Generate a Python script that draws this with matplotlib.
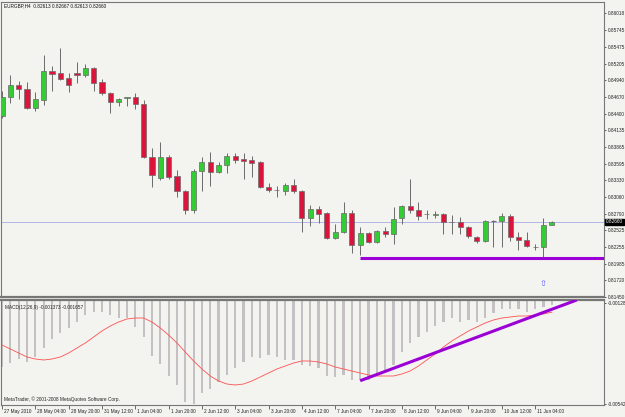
import matplotlib
matplotlib.use('Agg')
import matplotlib.pyplot as plt
import matplotlib.transforms as mtransforms

# EURGBP H4 candles
opens = [0.84362, 0.84667, 0.84860, 0.84796, 0.84490, 0.84619, 0.85085, 0.85053, 0.84973, 0.85053,
         0.85021, 0.85134, 0.84908, 0.84732, 0.84587, 0.84651, 0.84667, 0.84555, 0.83702, 0.83365,
         0.83702, 0.83397, 0.83156, 0.82850, 0.83477, 0.83622, 0.83461, 0.83574, 0.83718, 0.83670,
         0.83654, 0.83622, 0.83220, 0.83172, 0.83156, 0.83252, 0.83156, 0.82722, 0.82866, 0.82802,
         0.82400, 0.82496, 0.82802, 0.82287, 0.82480, 0.82336, 0.82513, 0.82464, 0.82722, 0.82914,
         0.82850, 0.82786, 0.82770, 0.82786, 0.82657, 0.82657, 0.82577, 0.82416, 0.82352, 0.82673,
         0.82673, 0.82754, 0.82416, 0.82368, 0.82255, 0.82255, 0.82613]
highs = [0.84764, 0.85021, 0.84925, 0.84908, 0.84748, 0.85343, 0.85166, 0.85455, 0.85053, 0.85230,
         0.85198, 0.85150, 0.84957, 0.84748, 0.84651, 0.84667, 0.84732, 0.84619, 0.83847, 0.83944,
         0.83734, 0.83493, 0.83172, 0.83510, 0.83702, 0.83783, 0.83622, 0.83767, 0.83767, 0.83767,
         0.83718, 0.83638, 0.83284, 0.83236, 0.83284, 0.83349, 0.83172, 0.82931, 0.82914, 0.82818,
         0.82625, 0.82979, 0.82850, 0.82577, 0.82496, 0.82529, 0.82577, 0.82898, 0.82931, 0.83349,
         0.82979, 0.82850, 0.82834, 0.82802, 0.82770, 0.82738, 0.82593, 0.82432, 0.82689, 0.82689,
         0.82802, 0.82786, 0.82496, 0.82496, 0.82304, 0.82722, 0.82667]
lows = [0.84330, 0.84571, 0.84635, 0.84474, 0.84442, 0.84539, 0.84764, 0.84941, 0.84748, 0.84892,
        0.84989, 0.84764, 0.84699, 0.84410, 0.84523, 0.84523, 0.84474, 0.83686, 0.83220, 0.83333,
        0.83349, 0.83060, 0.82786, 0.82802, 0.83156, 0.83236, 0.83445, 0.83445, 0.83606, 0.83349,
        0.83381, 0.83204, 0.83140, 0.83060, 0.83092, 0.83124, 0.82496, 0.82593, 0.82641, 0.82384,
        0.82384, 0.82480, 0.82159, 0.82127, 0.82320, 0.82320, 0.82416, 0.82304, 0.82625, 0.82802,
        0.82689, 0.82705, 0.82722, 0.82464, 0.82464, 0.82464, 0.82400, 0.82320, 0.82336, 0.82255,
        0.82255, 0.82352, 0.82207, 0.82255, 0.82207, 0.82094, 0.82613]
closes = [0.84667, 0.84860, 0.84796, 0.84490, 0.84635, 0.85085, 0.85037, 0.84957, 0.84860, 0.85021,
          0.85134, 0.84892, 0.84732, 0.84587, 0.84635, 0.84667, 0.84555, 0.83702, 0.83413, 0.83702,
          0.83381, 0.83156, 0.82850, 0.83477, 0.83622, 0.83461, 0.83574, 0.83718, 0.83654, 0.83638,
          0.83606, 0.83220, 0.83172, 0.83165, 0.83252, 0.83156, 0.82722, 0.82866, 0.82786, 0.82400,
          0.82496, 0.82802, 0.82287, 0.82480, 0.82336, 0.82513, 0.82464, 0.82705, 0.82914, 0.82850,
          0.82754, 0.82780, 0.82786, 0.82657, 0.82651, 0.82577, 0.82432, 0.82352, 0.82673, 0.82670,
          0.82754, 0.82416, 0.82368, 0.82271, 0.82260, 0.82609, 0.82660]

# MACD(12,26,9): histogram (main) and signal line
macd = [-0.003904, -0.003740, -0.003576, -0.003699, -0.003494, -0.003125, -0.002756, -0.002510,
        -0.002305, -0.002059, -0.001772, -0.001649, -0.001649, -0.001772, -0.001895, -0.001895,
        -0.002264, -0.002674, -0.003453, -0.003781, -0.004273, -0.004642, -0.005339, -0.005421,
        -0.004970, -0.004806, -0.004519, -0.004232, -0.003945, -0.003699, -0.003494, -0.003535,
        -0.003412, -0.003494, -0.003617, -0.003617, -0.003822, -0.003863, -0.003945, -0.004273,
        -0.004314, -0.004232, -0.004437, -0.004437, -0.004437, -0.004232, -0.004150, -0.003822,
        -0.003289, -0.002920, -0.002674, -0.002469, -0.002223, -0.002059, -0.001895, -0.002059,
        -0.001977, -0.002059, -0.001895, -0.001690, -0.001526, -0.001526, -0.001526, -0.001649,
        -0.001526, -0.001444, -0.001373]
signal = [-0.003002, -0.003166, -0.003330, -0.003494, -0.003576, -0.003617, -0.003576, -0.003494,
          -0.003330, -0.003125, -0.002920, -0.002674, -0.002428, -0.002223, -0.002059, -0.001936,
          -0.001895, -0.001895, -0.002059, -0.002305, -0.002592, -0.002920, -0.003289, -0.003658,
          -0.003986, -0.004273, -0.004478, -0.004601, -0.004642, -0.004601, -0.004478, -0.004314,
          -0.004150, -0.003986, -0.003863, -0.003740, -0.003658, -0.003658, -0.003699, -0.003781,
          -0.003904, -0.003986, -0.004068, -0.004150, -0.004232, -0.004273, -0.004273, -0.004273,
          -0.004191, -0.004068, -0.003863, -0.003617, -0.003371, -0.003084, -0.002838, -0.002633,
          -0.002428, -0.002264, -0.002100, -0.001977, -0.001895, -0.001854, -0.001813, -0.001813,
          -0.001772, -0.001731, -0.001657]

time_labels = ['27 May 2010', '28 May 04:00', '28 May 20:00', '31 May 12:00', '1 Jun 04:00',
               '1 Jun 20:00', '2 Jun 12:00', '3 Jun 04:00', '3 Jun 20:00', '4 Jun 12:00',
               '7 Jun 04:00', '7 Jun 20:00', '8 Jun 12:00', '9 Jun 04:00', '9 Jun 20:00',
               '10 Jun 12:00', '11 Jun 04:00']
price_ticks = [0.86018, 0.85745, 0.85475, 0.85205, 0.84940, 0.84670, 0.84400, 0.84135, 0.83865,
               0.83595, 0.83330, 0.83060, 0.82790, 0.82525, 0.82255, 0.81985, 0.81720, 0.81450]
macd_ticks = [-0.00128, -0.00542]

bid = 0.82660
support_level = 0.82078
support_start = 43
macd_trend = ([43, 69], [-0.004466, -0.001157])

BG = '#f3f3ef'
GREEN = '#32cd32'
RED = '#dc143c'
EDGE = '#6a6a6a'
FRAME = '#777777'
VIOLET = '#9a00d6'
FS = 3.4
plt.rcParams['font.family'] = ['Liberation Sans', 'DejaVu Sans']

fig = plt.figure(figsize=(6.25, 4.17), dpi=100, facecolor=BG)
W, H = 625.0, 417.0

ax = fig.add_axes([1 / W, 1 - 297 / H, 603 / W, 295 / H], facecolor=BG)
ax2 = fig.add_axes([1 / W, 1 - 405 / H, 603 / W, 105 / H], facecolor=BG)

n = len(opens)
idx = list(range(n))

# candles
for i in idx:
    o, h, l, c = opens[i], highs[i], lows[i], closes[i]
    col = GREEN if c >= o else RED
    ax.vlines(i, l, h, color=EDGE, lw=0.7, zorder=2)
    body = abs(c - o)
    if body < 0.00004:
        ax.hlines(o, i - 0.32, i + 0.32, color=EDGE, lw=0.8, zorder=3)
    else:
        ax.bar(i, body, bottom=min(o, c), width=0.62, color=col,
               edgecolor=EDGE, linewidth=0.5, zorder=3)

ax.axhline(bid, color='#b4b4e6', lw=0.7, zorder=1)
ax.hlines(support_level, support_start, 80, color=VIOLET, lw=2.2, zorder=4)
ax.text(65, 0.81675, '\u21e7', color='#5a5aff', fontsize=6, ha='center', va='center',
        family='DejaVu Sans', zorder=5)

ax.set_xlim(-0.12, 72.27)
ax.set_ylim(0.81451, 0.86195)
ax.yaxis.tick_right()
ax.set_yticks(price_ticks)
ax.set_yticklabels(['%.5f' % p for p in price_ticks])
ax.tick_params(axis='y', length=1.5, width=0.5, pad=1, labelsize=FS, colors='#222222')
ax.set_xticks([])
for s in ax.spines.values():
    s.set_color(FRAME)
    s.set_linewidth(0.8)
ax.spines['bottom'].set_linewidth(1.6)

# current price tag
ax.text(1.003, bid, '%.5f' % bid, transform=mtransforms.blended_transform_factory(ax.transAxes, ax.transData),
        fontsize=FS, color='white', va='center', ha='left',
        bbox=dict(boxstyle='square,pad=0.15', fc='black', ec='black'), zorder=6, clip_on=False)

fig.text(4 / W, 1 - 6 / H, 'EURGBP,H4  0.82613 0.82667 0.82613 0.82660', fontsize=FS,
         va='center', ha='left', color='#111111')

# MACD panel
ax2.bar(idx, macd, width=0.26, color='#c4c0c4', zorder=2)
ax2.plot(idx, signal, color='#ff5050', lw=0.6, zorder=3)
ax2.plot(macd_trend[0], macd_trend[1], color=VIOLET, lw=2.2, solid_capstyle='butt', zorder=4)
ax2.set_xlim(-0.12, 72.27)
ax2.set_ylim(-0.005462, -0.001157)
ax2.yaxis.tick_right()
ax2.set_yticks(macd_ticks)
ax2.set_yticklabels(['%.5f' % v for v in macd_ticks])
ax2.tick_params(axis='y', length=1.5, width=0.5, pad=1, labelsize=FS, colors='#222222')
tick_pos = [4 * k for k in range(len(time_labels))]
ax2.set_xticks(tick_pos)
ax2.set_xticklabels([])
ax2.tick_params(axis='x', length=3, width=0.5, colors='#333333')
for s in ax2.spines.values():
    s.set_color(FRAME)
    s.set_linewidth(0.8)
ax2.spines['top'].set_linewidth(1.6)
trans = mtransforms.blended_transform_factory(ax2.transData, ax2.transAxes)
for k, lab in enumerate(time_labels):
    ax2.text(tick_pos[k] + 0.25, -0.035, lab, transform=trans, fontsize=FS, va='top', ha='left',
             color='#222222', clip_on=False)

ax2.text(0.006, 0.95, 'MACD(12,26,9) -0.001373 -0.001657', transform=ax2.transAxes,
         fontsize=FS, va='top', ha='left', color='#222222')
fig.text(4 / W, 1 - 399 / H, 'MetaTrader, \u00a9 2001-2008 MetaQuotes Software Corp.',
         fontsize=FS, va='center', ha='left', color='#222222')

fig.savefig('out.png', dpi=100, facecolor=BG)
